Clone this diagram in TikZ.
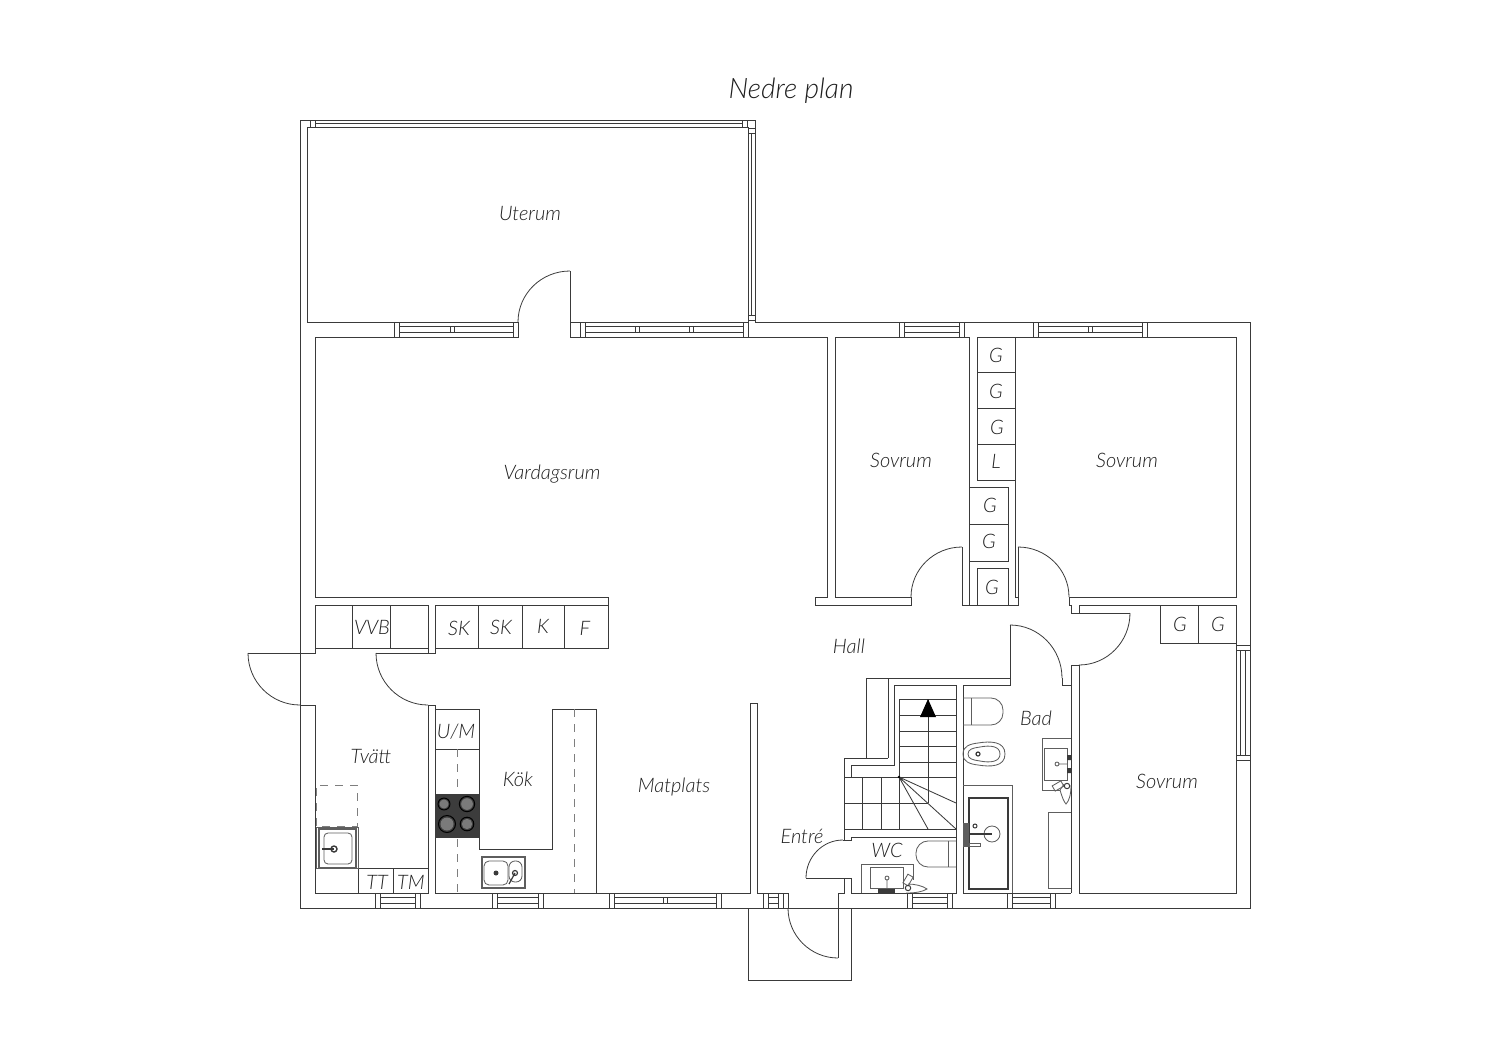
\documentclass[tikz,border=0pt]{standalone}
\usepackage{fontspec}
\setmainfont{Lato Light}[ItalicFont={Lato Light Italic}]
\usetikzlibrary{calc}
\definecolor{ink}{HTML}{3A3A3A}
\definecolor{txt}{HTML}{1E1E1E}
\definecolor{soft}{HTML}{5E5E5E}
\definecolor{hob}{HTML}{3C3C3C}
\definecolor{plate}{HTML}{7A7A7A}
\tikzset{
  wall/.style={draw=ink,line width=0.42pt,line join=miter},
  thinline/.style={draw=ink,line width=0.4pt},
  fixture/.style={draw=soft,line width=0.42pt},
  lbl/.style={font=\itshape\fontsize{10}{12}\selectfont,text=txt,inner sep=0pt},
  ttl/.style={font=\itshape\fontsize{14.1}{16}\selectfont,text=txt,inner sep=0pt},
  dashline/.style={draw=soft!80,line width=0.45pt,dash pattern=on 4pt off 3.5pt},
}
% quarter arc from A round the corner C to B
\newcommand{\qarc}[6]{%
  \draw[thinline] (#1,#2) .. controls ($(#1,#2)!0.5523!(#3,#4)$) and ($(#5,#6)!0.5523!(#3,#4)$) .. (#5,#6);}
% horizontal window x1 x2 y1 y2, mullions
\newcommand{\hwin}[5]{%
  \draw[thinline] (#1,#3) rectangle (#2,#4);
  \draw[thinline] (#1+5,#3+4.5) -- (#2-5,#3+4.5) (#1+5,#4-4.5) -- (#2-5,#4-4.5)
     (#1+5,#3) -- (#1+5,#4) (#2-5,#3) -- (#2-5,#4);
  \foreach \m in {#5} {\draw[thinline] (\m-2,#3+4.5) -- (\m-2,#4-4.5) (\m+2,#3+4.5) -- (\m+2,#4-4.5);}}
\begin{document}
\begin{tikzpicture}[x=0.5pt,y=-0.5pt]
\useasboundingbox (0,0) rectangle (1500,1060);
% outer shell
\draw[wall] (300,908) -- (300,120) -- (755,120) -- (755,322) -- (1250,322) -- (1250,908) -- cycle;
% Uterum
\draw[wall] (518,322) -- (307,322) -- (307,127) -- (748,127) -- (748,322) -- (570,322);
% door to uterum
\draw[wall] (570,271) -- (570,337) -- (827,337) -- (827,597) -- (815,597) -- (815,605) -- (911,605) -- (911,597) -- (835,597) -- (835,337) -- (969,337) -- (969,605);
\draw[wall] (518,322) -- (518,337) -- (315,337) -- (315,597) -- (608,597) -- (608,648) -- (435,648) -- (435,605) -- (608,605);
\qarc{570}{271}{518}{271}{518}{322}
% bedroom doors and closet wall
\draw[wall] (962,547) -- (962,605) -- (1018,605) -- (1018,547);
\qarc{962}{547}{911}{547}{911}{597}
\qarc{1018}{547}{1069}{547}{1069}{597}
\draw[wall] (1015,337) -- (1015,597) (1015,597) -- (1018,597);
\draw[wall] (1015,337) -- (1236,337) -- (1236,597) -- (1069,597) -- (1069,605) -- (1071,605) -- (1071,613) -- (1130,613);
\draw[wall] (1079,613) -- (1079,605) -- (1236,605) -- (1236,893) -- (1079,893) -- (1079,665) -- (1071,665) -- (1071,893);
\qarc{1130}{613}{1130}{665}{1079}{665}
% closets
\foreach \ya/\yb in {337/372,372/408,408/444,444/480} {\draw[wall] (977,\ya) rectangle (1015,\yb);}
\foreach \ya/\yb in {487/524,524/561} {\draw[wall] (969,\ya) rectangle (1008,\yb);}
\draw[wall] (977,568) rectangle (1008,605);
\draw[wall] (1160,605) rectangle (1198,643) (1198,605) rectangle (1236,643);
% utility cabinets
\draw[wall] (315,605) rectangle (428,648);
\draw[wall] (352,605) -- (352,648) (390,605) -- (390,648);
\draw[wall] (478,605) -- (478,648) (522,605) -- (522,648) (564,605) -- (564,648);
\draw[wall] (428,605) -- (428,653) -- (376,653);
\draw[wall] (435,648) -- (435,653) -- (428,653);
\draw[wall] (248,653) -- (315,653) -- (315,605);
\qarc{248}{653}{248}{705}{300}{705}
\qarc{376}{653}{376}{705}{428}{705}
% Tvätt
\draw[wall] (300,705) -- (315,705) -- (315,893) -- (428,893) -- (428,705) -- (435,705) -- (435,893) -- (596,893) -- (596,709) -- (552,709) -- (552,849) -- (479,849) -- (479,709) -- (435,709);
\draw[wall] (358,893) -- (358,868) -- (428,868) (393,868) -- (393,893);
\draw[wall] (435,749) -- (479,749);
\draw[dashline] (316,826) -- (316,785) -- (357,785) -- (357,826) -- cycle;
\draw[dashline] (457,749) -- (457,893) (574,709) -- (574,893);
% laundry sink
\draw[fixture] (316,827) rectangle (358,868);
\draw[fixture,line width=0.7pt] (319,829) rectangle (356,868);
\draw[fixture,rounded corners=2pt] (324,833) rectangle (352,864);
\draw[draw=ink,line width=0.9pt] (322,849) -- (334,849);
\draw[draw=ink,line width=0.7pt] (334,849) circle (3);
% hob
\fill[hob] (435,794) rectangle (479,838);
\foreach \cx/\cy/\r in {444/804/7,467/804/9,447/824/10,467/824/8} {
  \fill[plate] (\cx,\cy) circle (\r*0.65);
  \draw[black,line width=0.5pt] (\cx,\cy) circle (\r*0.85);
}
% kitchen sink
\draw[fixture,line width=0.7pt] (482,857) rectangle (525,888);
\draw[fixture,rounded corners=2.5pt] (484,861) rectangle (508,885);
\draw[fixture,rounded corners=3pt] (509,861) rectangle (522,882);
\fill[ink] (496,873) circle (2.5);
\draw[draw=ink,line width=0.6pt] (515,873) circle (2.5) (515,873) -- (509,884);
% south walls, hall
\draw[wall] (596,893) -- (750,893) -- (750,703) -- (757,703) -- (757,893) -- (788,893) -- (788,908);
\qarc{838}{958}{788}{958}{788}{908}
\draw[wall] (748,908) -- (748,980) -- (851,980) -- (851,908);
\draw[wall] (838,958) -- (838,893) -- (844,893) -- (844,878) -- (806,878);
\draw[wall] (844,878) -- (851,878) -- (851,893) -- (956,893) -- (956,685) -- (894,685) -- (894,765) -- (851,765) -- (851,777);
\qarc{843}{840}{806}{840}{806}{878}
\draw[wall] (843,840) -- (851,840) -- (851,837) -- (956,837);
% stair walls
\draw[wall] (1010,625) -- (1010,678) -- (866,678) -- (866,758) -- (844,758) -- (844,840);
\draw[wall] (888,678) -- (888,758) (866,758) -- (888,758);
\qarc{1010}{625}{1062}{625}{1062}{678}
\draw[wall] (1010,678) -- (1010,685) -- (963,685) -- (963,893) -- (1071,893);
\draw[wall] (1062,678) -- (1062,685) -- (1071,685);
% stairs
\foreach \y in {699,715,731,746,762,777} {\draw[wall] (899,\y) -- (956,\y);}
\draw[wall] (844,777) -- (899,777);
\draw[wall] (899,699) -- (899,829) (928,699) -- (928,803);
\foreach \x in {862,881} {\draw[wall] (\x,777) -- (\x,829);}
\draw[wall] (844,803) -- (928,803) (844,829) -- (956,829);
\draw[wall] (899,777) -- (956,803) (899,777) -- (956,829) (899,777) -- (928,829);
\fill[black] (928,699) -- (936,717) -- (920,717) -- cycle;
\fill[black] (899,777) circle (1.3);
% bad fixtures
\draw[fixture,rounded corners=6pt] (963,698) -- (1003,698) -- (1003,725) -- (963,725);
\draw[fixture] (971,698) -- (971,725);
\draw[fixture] (963,754) .. controls (963,746) and (970,744) .. (978,743) .. controls (990,741) and (1005,741) .. (1005,754) .. controls (1005,767) and (990,767) .. (978,765) .. controls (970,764) and (963,762) .. (963,754) -- cycle;
\draw[fixture] (968,754) .. controls (968,749) and (973,748) .. (980,747) .. controls (990,745) and (1000,746) .. (1000,754) .. controls (1000,762) and (990,763) .. (980,761) .. controls (973,760) and (968,759) .. (968,754) -- cycle;
\draw[draw=ink,line width=0.6pt] (978,754) circle (2);
\draw[fixture] (963,785) -- (1012,785) -- (1012,893);
\draw[draw=ink,line width=0.8pt] (969,798) rectangle (1008,889);
\draw[fixture] (992,834) circle (8);
\draw[draw=ink,line width=0.6pt] (967,834) -- (992,834);
\draw[draw=ink,line width=0.5pt] (975,826) circle (2);
\fill[soft] (963,823) rectangle (969,847);
\draw[fixture] (969,843) rectangle (980,846);
\draw[fixture] (1042,790) -- (1042,738) -- (1071,738) (1042,790) -- (1060,790);
\draw[fixture] (1044,748) rectangle (1067,780);
\draw[fixture] (1057,764) circle (2) (1059,764) -- (1067,764);
\fill[ink] (1067,755) rectangle (1071,760) (1067,768) rectangle (1071,773);
\draw[fixture,rotate around={30:(1058,786)}] (1053,783) rectangle (1063,789);
\draw[fixture] (1060,790) .. controls (1062,797) and (1064,802) .. (1066,804) .. controls (1069,801) and (1071,795) .. (1071,785) (1060,790) -- (1064,784);
\draw[draw=ink,line width=0.5pt] (1067,786) circle (2.7);
\draw[fixture] (1071,812) -- (1048,812) -- (1048,888) -- (1071,888);
% WC fixtures
\draw[fixture,rounded corners=6pt] (956,841) -- (916,841) -- (916,867) -- (956,867);
\draw[fixture] (948,841) -- (948,867);
\draw[fixture] (861,893) -- (861,864) -- (913,864) -- (913,880);
\draw[fixture] (870,867) rectangle (903,888);
\draw[fixture] (887,878) circle (2) (887,880) -- (887,889);
\fill[ink] (878,889) rectangle (895,893);
\draw[fixture,rotate around={60:(908,880)}] (903,877) rectangle (913,883);
\draw[fixture] (908,884) .. controls (915,884) and (923,886) .. (927,889) .. controls (922,892) and (915,893) .. (906,893);
\draw[draw=ink,line width=0.5pt] (908,888) circle (2.7);
% windows
\draw[thinline] (310,120) rectangle (747,127);
\draw[thinline] (315,120) -- (315,127) (742,120) -- (742,127) (315,123.5) -- (742,123.5);
\draw[thinline] (748,128) rectangle (755,320);
\draw[thinline] (748,133) -- (755,133) (748,315) -- (755,315) (751.5,133) -- (751.5,315);
\hwin{394}{518}{322}{337}{452}
\hwin{580}{748}{322}{337}{637,691}
\hwin{899}{964}{322}{337}{}
\hwin{1033}{1147}{322}{337}{1090}
\hwin{375}{420}{893}{908}{}
\hwin{492}{543}{893}{908}{}
\hwin{609}{721}{893}{908}{665}
\hwin{763}{783}{893}{908}{}
\hwin{907}{952}{893}{908}{}
\hwin{1007}{1055}{893}{908}{}
\draw[thinline] (1236,645) rectangle (1250,760);
\draw[thinline] (1236,650) -- (1250,650) (1236,755) -- (1250,755) (1240.5,650) -- (1240.5,755) (1245.5,650) -- (1245.5,755);
% labels
\node[ttl] (title) at (791,91) {Nedre plan};
\node[lbl] (uterum) at (530,214) {Uterum};
\node[lbl] (vardag) at (552,474) {Vardagsrum};
\node[lbl] (sov1) at (901,460) {Sovrum};
\node[lbl] (sov2) at (1127,460) {Sovrum};
\node[lbl] (sov3) at (1167,781) {Sovrum};
\node[lbl] (hall) at (849,646) {Hall};
\node[lbl] (bad) at (1036,718) {Bad};
\node[lbl] (wc) at (887,850) {WC};
\node[lbl] (entre) at (802,836) {Entré};
\node[lbl] (matplats) at (674,787) {Matplats};
\node[lbl] (kok) at (518,779) {Kök};
\node[lbl] (tvatt) at (371,756) {Tvätt};
\node[lbl] (vvb) at (372,627) {VVB};
\node[lbl] (sk1) at (459,628) {SK};
\node[lbl] (sk2) at (501,627) {SK};
\node[lbl] (k) at (543,626) {K};
\node[lbl] (f) at (585,628) {F};
\node[lbl] (um) at (456,732) {U/M};
\node[lbl] (tt) at (377,882) {TT};
\node[lbl] (tm) at (411,882) {TM};
\node[lbl] (g1) at (996,355) {G};
\node[lbl] (g2) at (996,391) {G};
\node[lbl] (g3) at (997,427) {G};
\node[lbl] (l) at (996,461) {L};
\node[lbl] (g4) at (990,505) {G};
\node[lbl] (g5) at (989,541) {G};
\node[lbl] (g6) at (992,587) {G};
\node[lbl] (g7) at (1180,624) {G};
\node[lbl] (g8) at (1218,624) {G};
\end{tikzpicture}
\end{document}
